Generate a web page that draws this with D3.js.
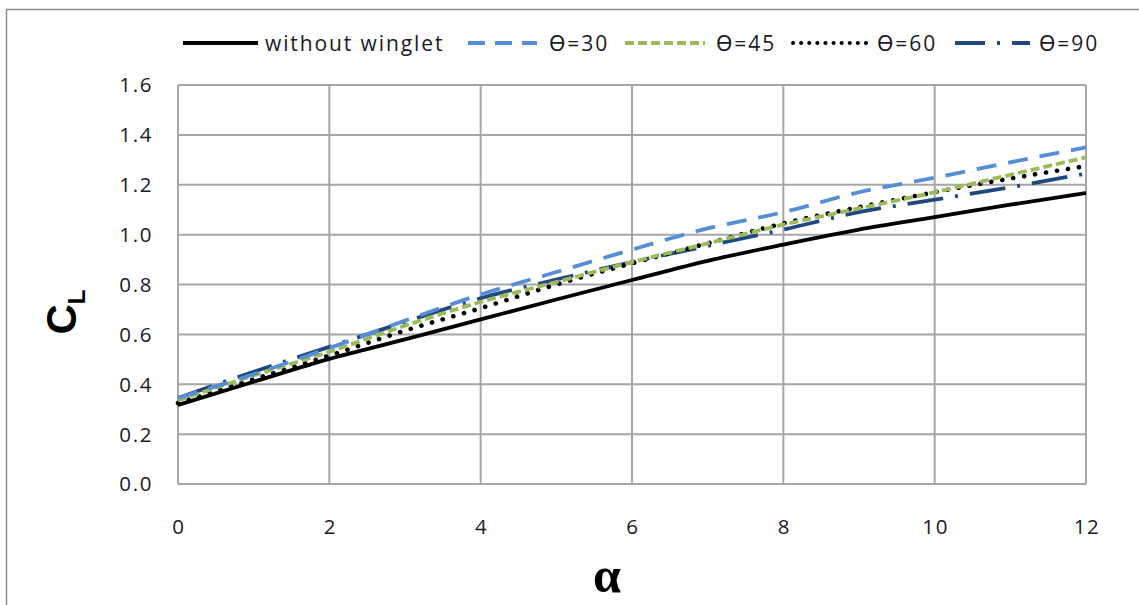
<!DOCTYPE html>
<html><head><meta charset="utf-8">
<script src="https://cdn.jsdelivr.net/npm/d3@7/dist/d3.min.js"></script>
<style>body{margin:0;background:#fff}svg{display:block}</style>
</head><body><svg id="c" width="1139" height="605"></svg>
<script>
const alpha = [0,1,2,3,4,5,6,7,8,9,10,11,12];
const noWinglet = [0.317,0.41,0.502,0.58,0.66,0.74,0.818,0.895,0.96,1.02,1.07,1.12,1.167];
const theta30 = [0.345,0.44,0.545,0.655,0.76,0.85,0.94,1.025,1.09,1.17,1.228,1.29,1.35];
const theta45 = [0.335,0.435,0.53,0.635,0.73,0.81,0.89,0.965,1.04,1.105,1.17,1.24,1.31];
const theta60 = [0.325,0.42,0.515,0.615,0.705,0.80,0.885,0.965,1.045,1.11,1.17,1.225,1.275];
const theta90 = [0.345,0.45,0.55,0.65,0.745,0.82,0.89,0.955,1.02,1.09,1.14,1.19,1.245];
const seriesNames = ["without winglet","ϴ=30","ϴ=45","ϴ=60","ϴ=90"];
const xTicks = [0,2,4,6,8,10,12];
const yTicks = [0,0.2,0.4,0.6,0.8,1.0,1.2,1.4,1.6];

const styles = [
  {color:"#000000", dash:null, w:3.8, cap:"butt"},
  {color:"#558ED5", dash:"20,12", w:3.8, cap:"butt"},
  {color:"#9BBB59", dash:"9,4", w:3.8, cap:"butt"},
  {color:"#000000", dash:"0.1,11", w:4.6, cap:"round"},
  {color:"#1F497D", dash:"36,12,3,12", w:3.8, cap:"butt"}
];
const data = [noWinglet,theta30,theta45,theta60,theta90];

const svg = d3.select("#c");
const L=178,R=1086,T=85,B=484;
svg.append("rect").attr("x",6.5).attr("y",9.5).attr("width",1140).attr("height",610)
  .attr("fill","none").attr("stroke","#8c8c8c").attr("stroke-width",1.5);

const x = d3.scaleLinear().domain([0,12]).range([L,R]);
const y = d3.scaleLinear().domain([0,1.6]).range([B,T]);

const g = svg.append("g");
g.selectAll(".vg").data(xTicks).join("line")
  .attr("x1",d=>x(d)).attr("x2",d=>x(d)).attr("y1",T).attr("y2",B)
  .attr("stroke","#a6a6a6").attr("stroke-width",2);
g.selectAll(".hg").data(yTicks).join("line")
  .attr("x1",L).attr("x2",R).attr("y1",d=>y(d)).attr("y2",d=>y(d))
  .attr("stroke","#a6a6a6").attr("stroke-width",2);

const font = "'Open Sans', 'Noto Sans', sans-serif";
svg.selectAll(".yl").data(yTicks).join("text")
  .attr("x",153).attr("y",d=>y(d)).attr("dy","0.36em")
  .attr("text-anchor","end").attr("font-family",font).attr("font-size",20.5)
  .attr("letter-spacing",1.6)
  .attr("fill","#1a1a24").text(d=>d.toFixed(1));
svg.selectAll(".xl").data(xTicks).join("text")
  .attr("x",d=>x(d)+1).attr("y",527).attr("dy","0.36em")
  .attr("text-anchor","middle").attr("font-family",font).attr("font-size",20.5)
  .attr("letter-spacing",1.6)
  .attr("fill","#1a1a24").text(d=>d);

const line = d3.line().x((d,i)=>x(alpha[i])).y(d=>y(d)).curve(d3.curveMonotoneX);
const order = [0,4,3,2,1];
order.forEach(k=>{
  const s = styles[k];
  svg.append("path").attr("d",line(data[k])).attr("fill","none")
    .attr("stroke",s.color).attr("stroke-width",s.w)
    .attr("stroke-dasharray",s.dash).attr("stroke-linecap",s.cap);
});

// legend
const leg = [
  {x1:183,x2:258,tx:265,dash:null},
  {x1:468,x2:537,tx:549,dash:"17,10"},
  {x1:625,x2:705,tx:716,dash:"9,4"},
  {x1:793,x2:870,tx:877,dash:"0.1,8"},
  {x1:955,x2:1030,tx:1039,dash:"30,12,3,12"}
];
leg.forEach((p,k)=>{
  const s = styles[k];
  svg.append("line").attr("x1",p.x1).attr("x2",p.x2).attr("y1",43).attr("y2",43)
    .attr("stroke",s.color).attr("stroke-width",k==3?4:s.w)
    .attr("stroke-dasharray",p.dash).attr("stroke-linecap",s.cap);
  svg.append("text").attr("x",p.tx).attr("y",43).attr("dy","0.36em")
    .attr("font-family",font).attr("font-size",21).attr("letter-spacing",1.9)
    .attr("fill","#1a1a24").text(seriesNames[k]);
});

// axis titles
const yt = svg.append("text").attr("transform","translate(76,312) rotate(-90)")
  .attr("text-anchor","middle").attr("font-family","'Liberation Sans', Arial, sans-serif")
  .attr("font-weight","bold").attr("font-size",42).attr("fill","#000");
yt.append("tspan").text("C");
yt.append("tspan").attr("font-size",24).attr("dy",9).text("L");
svg.append("text").attr("x",607).attr("y",592).attr("text-anchor","middle")
  .attr("font-family","'Liberation Serif', 'DejaVu Serif', serif").attr("font-weight","bold")
  .attr("font-size",50).attr("fill","#000").text("α");
</script></body></html>
